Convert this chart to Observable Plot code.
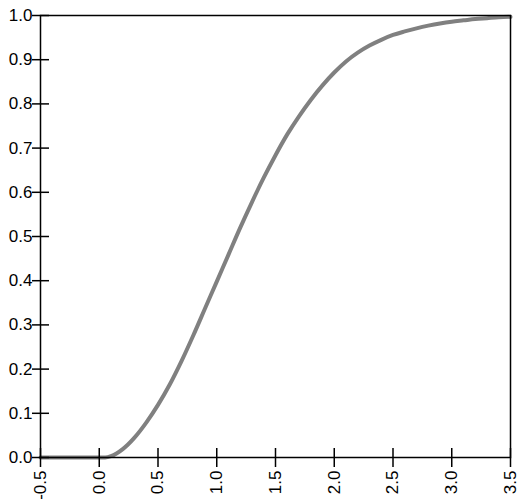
<!DOCTYPE html>
<html>
<head>
<meta charset="utf-8">
<script src="https://cdn.jsdelivr.net/npm/d3@7"></script>
<script src="https://cdn.jsdelivr.net/npm/@observablehq/plot@0.6"></script>
<style>
  html, body { margin: 0; padding: 0; background: #fff; }
</style>
</head>
<body>
<div id="chart"></div>
<script>
const xs = [-0.5, 0, 0.05, 0.1, 0.2, 0.3, 0.4, 0.5, 0.6, 0.7, 0.8, 0.9, 1.0, 1.1, 1.2, 1.3, 1.4, 1.5, 1.6, 1.7, 1.8, 1.9, 2.0, 2.1, 2.2, 2.3, 2.4, 2.5, 2.6, 2.7, 2.8, 2.9, 3.0, 3.1, 3.2, 3.3, 3.4, 3.5];
const ys = [0, 0, 0, 0.003, 0.019, 0.045, 0.079, 0.119, 0.165, 0.218, 0.276, 0.337, 0.398, 0.459, 0.520, 0.578, 0.633, 0.684, 0.731, 0.772, 0.809, 0.842, 0.871, 0.896, 0.916, 0.932, 0.945, 0.956, 0.964, 0.971, 0.977, 0.982, 0.986, 0.989, 0.992, 0.994, 0.996, 0.997];
const xTicks = [-0.5, 0, 0.5, 1.0, 1.5, 2.0, 2.5, 3.0, 3.5];
const yTicks = [0, 0.1, 0.2, 0.3, 0.4, 0.5, 0.6, 0.7, 0.8, 0.9, 1.0];

const data = xs.map((x, i) => ({x, y: ys[i]}));
const fmt = d => d.toFixed(1);

const chart = Plot.plot({
  width: 518,
  height: 501,
  marginLeft: 40,
  marginTop: 15,
  marginRight: 8,
  marginBottom: 44,
  style: {fontFamily: "Liberation Sans, Arial, sans-serif", fontSize: "17px", color: "#000", background: "#fff"},
  x: {domain: [-0.5, 3.5], label: null},
  y: {domain: [0, 1], label: null},
  marks: [
    Plot.line(data, {x: "x", y: "y", stroke: "#808080", strokeWidth: 4, curve: "monotone-x"}),
    Plot.axisY({ticks: yTicks, tickSize: 8, tickPadding: 0, tickFormat: fmt, strokeWidth: 1.5, label: null, fill: "#000"}),
    Plot.axisY({ticks: yTicks, tickSize: -9, tickFormat: () => "", strokeWidth: 1.5, label: null}),
    Plot.axisX({ticks: xTicks, tickSize: 10, tickPadding: 3, tickRotate: -90, tickFormat: fmt, strokeWidth: 1.5, label: null, fill: "#000"}),
    Plot.axisX({ticks: xTicks, tickSize: -9, tickFormat: () => "", strokeWidth: 1.5, label: null}),
    Plot.frame({stroke: "#000", strokeWidth: 1.5})
  ]
});
document.getElementById("chart").appendChild(chart);
</script>
</body>
</html>
